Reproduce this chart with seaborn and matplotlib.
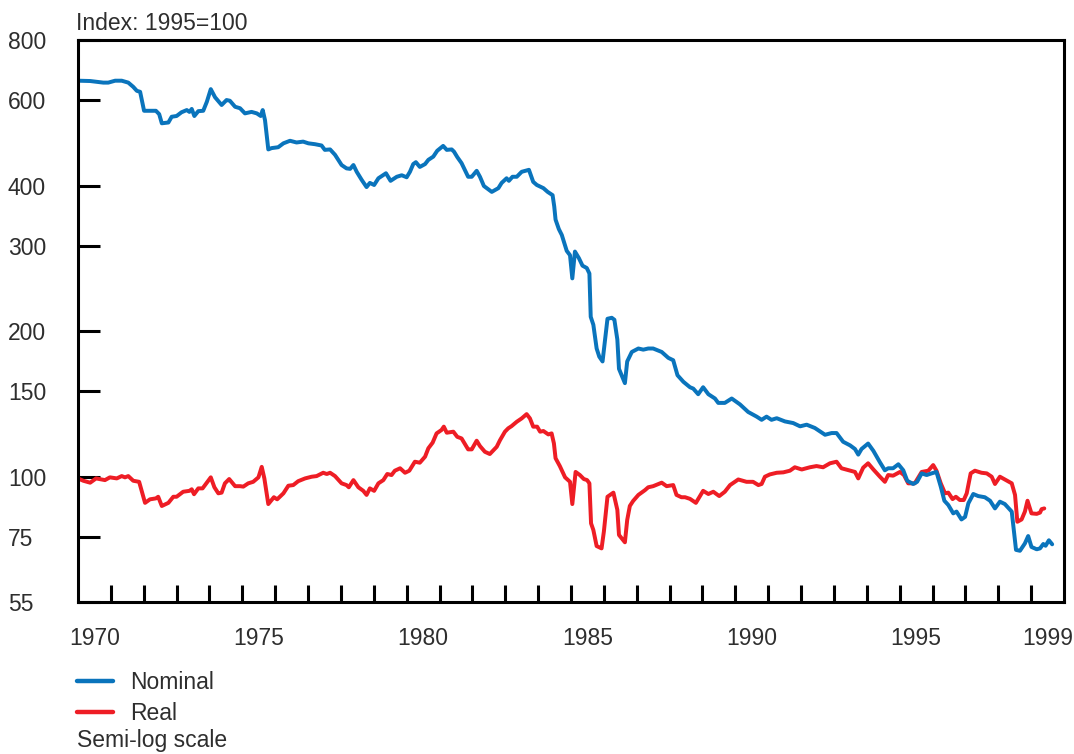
import matplotlib
matplotlib.use("Agg")
import matplotlib.pyplot as plt
from matplotlib.lines import Line2D
from matplotlib.ticker import FixedLocator, NullLocator, NullFormatter
import numpy as np
import pandas as pd
import seaborn as sns

# ---------------- data ----------------
nominal_years = [
    1970.00, 1970.37, 1970.77, 1970.92, 1971.13, 1971.33, 1971.53, 1971.68, 1971.79, 1971.89,
    1972.01, 1972.37, 1972.47, 1972.55, 1972.75, 1972.85, 1973.00, 1973.15, 1973.31, 1973.39,
    1973.46, 1973.54, 1973.66, 1973.81, 1973.92, 1974.04, 1974.17, 1974.37, 1974.52, 1974.62,
    1974.78, 1974.93, 1975.08, 1975.28, 1975.44, 1975.56, 1975.62, 1975.69, 1975.79, 1975.89,
    1976.09, 1976.25, 1976.45, 1976.65, 1976.85, 1977.01, 1977.21, 1977.41, 1977.51, 1977.67,
    1977.82, 1978.02, 1978.17, 1978.28, 1978.38, 1978.48, 1978.63, 1978.78, 1978.88, 1979.01,
    1979.14, 1979.37, 1979.51, 1979.70, 1979.85, 1980.00, 1980.10, 1980.20, 1980.28, 1980.40,
    1980.56, 1980.66, 1980.81, 1980.93, 1981.11, 1981.22, 1981.37, 1981.44, 1981.54, 1981.67,
    1981.87, 1981.98, 1982.13, 1982.23, 1982.35, 1982.59, 1982.79, 1982.89, 1983.04, 1983.11,
    1983.22, 1983.35, 1983.50, 1983.72, 1983.85, 1983.96, 1984.16, 1984.29, 1984.44, 1984.49,
    1984.53, 1984.63, 1984.72, 1984.87, 1984.97, 1985.04, 1985.12, 1985.24, 1985.35, 1985.48,
    1985.56, 1985.60, 1985.68, 1985.78, 1985.86, 1985.96, 1986.11, 1986.24, 1986.32, 1986.41,
    1986.46, 1986.64, 1986.71, 1986.85, 1987.05, 1987.20, 1987.35, 1987.50, 1987.76, 1987.96,
    1988.11, 1988.24, 1988.42, 1988.62, 1988.72, 1988.87, 1989.02, 1989.18, 1989.38, 1989.48,
    1989.68, 1989.89, 1990.14, 1990.39, 1990.65, 1990.80, 1990.95, 1991.10, 1991.26, 1991.51,
    1991.76, 1991.97, 1992.17, 1992.42, 1992.73, 1992.93, 1993.08, 1993.28, 1993.49, 1993.64,
    1993.74, 1993.84, 1994.04, 1994.20, 1994.40, 1994.55, 1994.65, 1994.80, 1994.96, 1995.11,
    1995.23, 1995.41, 1995.53, 1995.67, 1995.82, 1995.97, 1996.12, 1996.25, 1996.36, 1996.48,
    1996.63, 1996.73, 1996.88, 1996.99, 1997.09, 1997.24, 1997.39, 1997.59, 1997.75, 1997.90,
    1998.05, 1998.20, 1998.41, 1998.54, 1998.66, 1998.81, 1998.91, 1999.01, 1999.17, 1999.27,
    1999.37, 1999.44, 1999.54, 1999.64,
]
nominal_values = [
    659, 658, 653, 653, 659, 659, 653, 640, 628, 625,
    571, 571, 562, 538, 540, 555, 557, 567, 573, 568,
    576, 557, 570, 571, 596, 633, 609, 587, 601, 599,
    582, 578, 564, 568, 564, 557, 573, 546, 475, 478,
    480, 489, 495, 491, 493, 489, 487, 484, 474, 475,
    463, 441, 434, 433, 441, 427, 411, 397, 405, 401,
    414, 424, 409, 417, 420, 416, 427, 443, 447, 437,
    443, 452, 459, 472, 483, 474, 475, 470, 458, 445,
    417, 417, 429, 417, 399, 388, 395, 405, 414, 409,
    417, 417, 427, 431, 407, 401, 395, 388, 382, 362,
    340, 325, 316, 293, 287, 257, 292, 283, 273, 270,
    263, 214, 206, 184, 177, 173, 212, 213, 211, 192,
    167, 156, 173, 181, 184, 183, 184, 184, 181, 176,
    174, 162, 157, 153, 152, 148, 153, 148, 145, 142,
    142, 145, 141, 136, 133, 131, 133, 131, 132, 130,
    129, 127, 128, 126, 122, 123, 123, 118, 116, 114,
    111, 114, 117, 113, 107, 103, 104, 104, 106, 103,
    98, 96.5, 97.5, 101.5, 100.7, 101.5, 102.2, 95.3, 89.1, 87.3,
    83.9, 84.6, 81.5, 82.5, 88.0, 92.0, 91.1, 90.6, 89.1, 85.9,
    88.7, 87.7, 84.6, 70.5, 70.2, 72.7, 75.3, 71.5, 70.7, 71.0,
    72.5, 71.9, 73.8, 72.4,
]

real_years = [
    1970.00, 1970.16, 1970.37, 1970.55, 1970.82, 1970.97, 1971.18, 1971.33, 1971.43, 1971.53,
    1971.68, 1971.86, 1972.04, 1972.19, 1972.37, 1972.44, 1972.55, 1972.75, 1972.90, 1973.00,
    1973.20, 1973.39, 1973.46, 1973.53, 1973.66, 1973.79, 1973.92, 1974.04, 1974.15, 1974.27,
    1974.37, 1974.47, 1974.60, 1974.78, 1974.93, 1975.03, 1975.18, 1975.33, 1975.49, 1975.59,
    1975.67, 1975.79, 1975.96, 1976.06, 1976.25, 1976.40, 1976.55, 1976.70, 1976.91, 1977.11,
    1977.26, 1977.46, 1977.57, 1977.67, 1977.82, 1978.02, 1978.17, 1978.24, 1978.38, 1978.53,
    1978.68, 1978.78, 1978.88, 1979.01, 1979.14, 1979.29, 1979.41, 1979.54, 1979.64, 1979.80,
    1979.95, 1980.08, 1980.25, 1980.40, 1980.56, 1980.66, 1980.79, 1980.91, 1981.06, 1981.13,
    1981.22, 1981.42, 1981.54, 1981.67, 1981.87, 1981.98, 1982.13, 1982.23, 1982.38, 1982.53,
    1982.74, 1982.84, 1982.99, 1983.09, 1983.19, 1983.35, 1983.50, 1983.65, 1983.75, 1983.85,
    1983.97, 1984.06, 1984.16, 1984.31, 1984.41, 1984.48, 1984.53, 1984.66, 1984.82, 1984.97,
    1985.04, 1985.14, 1985.27, 1985.39, 1985.49, 1985.56, 1985.61, 1985.68, 1985.78, 1985.93,
    1986.00, 1986.11, 1986.29, 1986.41, 1986.46, 1986.64, 1986.71, 1986.79, 1986.89, 1987.05,
    1987.25, 1987.35, 1987.50, 1987.76, 1987.91, 1988.11, 1988.21, 1988.36, 1988.47, 1988.62,
    1988.80, 1989.02, 1989.18, 1989.33, 1989.51, 1989.68, 1989.84, 1990.09, 1990.34, 1990.54,
    1990.70, 1990.80, 1990.90, 1991.05, 1991.26, 1991.46, 1991.66, 1991.81, 1992.02, 1992.27,
    1992.47, 1992.67, 1992.88, 1993.08, 1993.23, 1993.43, 1993.64, 1993.74, 1993.89, 1994.04,
    1994.20, 1994.40, 1994.55, 1994.65, 1994.80, 1995.01, 1995.13, 1995.26, 1995.46, 1995.67,
    1995.87, 1996.02, 1996.12, 1996.25, 1996.38, 1996.48, 1996.61, 1996.71, 1996.83, 1996.95,
    1997.04, 1997.16, 1997.29, 1997.49, 1997.65, 1997.80, 1997.90, 1998.05, 1998.20, 1998.41,
    1998.51, 1998.58, 1998.71, 1998.81, 1998.89, 1999.01, 1999.17, 1999.27, 1999.32, 1999.40,
]
real_values = [
    99.1, 98.0, 97.1, 99.1, 98.3, 99.6, 99.1, 100.2, 99.6, 100.2,
    98.0, 97.5, 88.2, 89.7, 90.1, 90.8, 86.9, 88.2, 90.8, 90.8,
    93.0, 93.4, 94.1, 91.9, 94.5, 94.5, 97.1, 99.6, 95.0, 92.3,
    92.6, 96.8, 98.8, 95.5, 95.5, 95.3, 96.8, 97.5, 99.6, 104.7,
    99.1, 87.7, 90.6, 89.7, 92.3, 95.7, 96.0, 97.8, 99.1, 99.9,
    100.2, 101.8, 101.2, 101.8, 100.2, 96.8, 96.0, 95.0, 98.3, 95.0,
    93.4, 91.6, 94.5, 93.4, 96.8, 98.3, 101.2, 100.7, 102.8, 104.0,
    101.8, 102.8, 107.3, 106.8, 109.9, 114.4, 117.5, 122.8, 124.8, 126.8,
    123.2, 123.8, 120.8, 119.9, 113.8, 113.8, 118.6, 115.6, 112.5, 111.3,
    115.2, 118.9, 123.8, 125.8, 127.1, 129.8, 131.9, 134.6, 131.9, 126.8,
    126.8, 123.8, 124.2, 122.2, 122.8, 117.1, 109.1, 105.1, 99.6, 97.5,
    87.7, 102.2, 100.7, 98.8, 98.3, 96.8, 80.0, 77.5, 71.8, 71.0,
    76.9, 90.8, 92.6, 85.3, 75.7, 73.1, 81.3, 86.9, 89.0, 91.6,
    93.7, 95.0, 95.5, 97.1, 95.5, 96.0, 91.6, 90.6, 90.6, 89.9,
    88.2, 93.4, 92.0, 93.0, 91.1, 93.0, 96.0, 98.6, 97.5, 97.5,
    96.0, 96.5, 99.9, 101.0, 101.8, 102.0, 102.8, 104.5, 103.4, 104.5,
    105.1, 104.5, 106.5, 107.3, 104.0, 103.1, 102.2, 99.1, 104.3, 106.5,
    103.4, 99.9, 97.5, 100.7, 100.4, 102.2, 100.7, 96.8, 96.8, 102.2,
    102.8, 105.6, 102.8, 96.8, 92.3, 92.6, 89.8, 90.8, 89.4, 89.4,
    92.3, 101.5, 102.8, 101.8, 101.5, 99.9, 96.5, 99.9, 98.6, 96.8,
    91.6, 80.6, 81.5, 84.6, 89.1, 83.9, 83.7, 84.2, 85.6, 85.9,
]

series_names = ["Nominal", "Real"]
series_colors = ["#0a74bc", "#ee1d25"]
y_tick_values = [55, 75, 100, 150, 200, 300, 400, 600, 800]
x_label_years = [1970, 1975, 1980, 1985, 1990, 1995, 1999]
unit_title = "Index: 1995=100"
scale_note = "Semi-log scale"

# ---------------- build table ----------------
df = pd.concat([
    pd.DataFrame({"year": nominal_years, "index": nominal_values, "series": "Nominal"}),
    pd.DataFrame({"year": real_years, "index": real_values, "series": "Real"}),
], ignore_index=True)

# ---------------- style ----------------
sns.set_style("white")
plt.rcParams["font.family"] = ["Liberation Sans", "DejaVu Sans"]
FS = 16.5
TXT = "#2e2e2e"

W, H = 1074, 754
fig, ax = plt.subplots(figsize=(W / 100, H / 100), dpi=100)
fig.subplots_adjust(left=78 / W, right=1064 / W, bottom=1 - 602 / H, top=1 - 40 / H)

palette = dict(zip(series_names, series_colors))
sns.lineplot(data=df, x="year", y="index", hue="series", hue_order=series_names[::-1],
             palette=palette, estimator=None, errorbar=None, sort=False,
             linewidth=2.85, legend=False, ax=ax)
for ln in ax.lines:
    ln.set_solid_joinstyle("round")
    ln.set_solid_capstyle("round")

ax.set_yscale("log")
ax.set_ylim(55, 800)
ax.set_xlim(1970, 2000)

# spines
for s in ax.spines.values():
    s.set_visible(True)
    s.set_color("black")
    s.set_linewidth(2.2)

# y ticks
ax.yaxis.set_major_locator(FixedLocator(y_tick_values))
ax.yaxis.set_minor_locator(NullLocator())
ax.yaxis.set_minor_formatter(NullFormatter())
ax.set_yticklabels([str(v) for v in y_tick_values])
ax.tick_params(axis="y", which="major", direction="in", length=16, width=2.2,
               color="black", pad=50.5, labelsize=FS, labelcolor=TXT, left=True, right=False)
for lbl in ax.get_yticklabels():
    lbl.set_horizontalalignment("left")

# x ticks: year boundaries as ticks, labels centred inside the year
ax.xaxis.set_major_locator(FixedLocator(list(range(1971, 2000))))
ax.xaxis.set_major_formatter(NullFormatter())
ax.xaxis.set_minor_locator(FixedLocator([y + 0.5 for y in x_label_years]))
ax.set_xticklabels([str(y) for y in x_label_years], minor=True)
ax.tick_params(axis="x", which="major", direction="in", length=12.5, width=2.2,
               color="black", bottom=True, top=False)
ax.tick_params(axis="x", which="minor", length=0, pad=18, labelsize=FS, labelcolor=TXT)

ax.set_xlabel("")
ax.set_ylabel("")
ax.grid(False)

# title and notes
fig.text(76 / W, 1 - 23 / H, unit_title, ha="left", va="center", fontsize=FS, color=TXT)
fig.text(77 / W, 1 - 741 / H, scale_note, ha="left", va="center", fontsize=FS, color=TXT)

handles = [Line2D([0], [0], color=c, linewidth=3.2) for c in series_colors]
fig.legend(handles, series_names, loc="upper left",
           bbox_to_anchor=(77 / W, 1 - 671 / H), bbox_transform=fig.transFigure,
           frameon=False, fontsize=FS, handlelength=1.55, handletextpad=0.75,
           labelspacing=0.36, borderpad=0, borderaxespad=0, labelcolor=TXT)

fig.savefig("out.png", dpi=100)
